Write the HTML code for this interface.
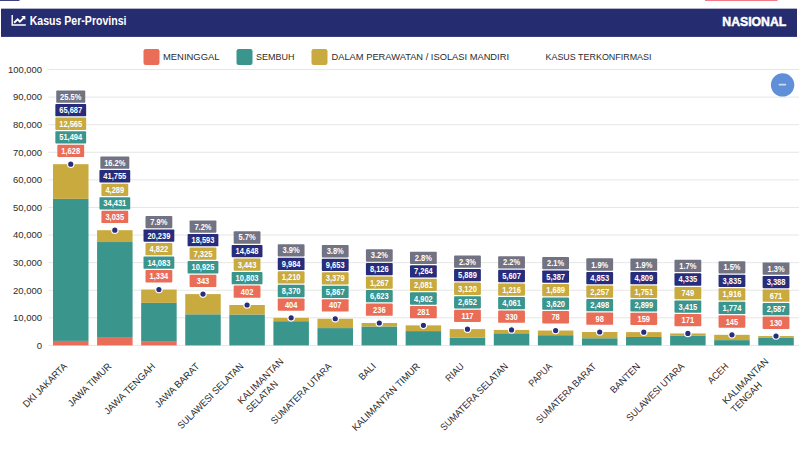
<!DOCTYPE html>
<html><head><meta charset="utf-8"><title>Kasus Per-Provinsi</title>
<style>html,body{margin:0;padding:0;background:#fff;overflow:hidden}body{width:800px;height:450px;font-family:"Liberation Sans",sans-serif}</style>
</head><body>
<svg width="800" height="450" viewBox="0 0 800 450" style="display:block;font-family:'Liberation Sans',sans-serif">
<rect width="800" height="450" fill="#fff"/>
<rect x="0" y="0" width="19.5" height="0.9" fill="#252c6f"/>
<rect x="705" y="0" width="72.5" height="0.9" fill="#f26d78"/>
<rect x="1" y="8.65" width="796" height="28.25" fill="#252c6f"/>
<g fill="none" stroke="#fff" stroke-width="1.4"><path d="M12.2,15 V25 H25.8"/><path d="M14.1,22.7 L17.6,19.3 L19.9,21.6 L23.6,17.8" stroke-width="1.9"/></g>
<path d="M21.2,16 H25.3 V20.1 Z" fill="#fff"/>
<text x="29.7" y="24.8" font-size="12" font-weight="bold" fill="#fff" textLength="96.8" lengthAdjust="spacingAndGlyphs">Kasus Per-Provinsi</text>
<text x="722.3" y="25.6" font-size="13" font-weight="bold" fill="#fff" stroke="#fff" stroke-width="0.5" textLength="64" lengthAdjust="spacingAndGlyphs">NASIONAL</text>
<rect x="143.5" y="49" width="16" height="16" rx="2.2" fill="#ea6d57"/>
<text x="163" y="59.9" font-size="9.5" fill="#2b2b2b" textLength="56.5" lengthAdjust="spacingAndGlyphs">MENINGGAL</text>
<rect x="236.5" y="49" width="16" height="16" rx="2.2" fill="#3a958d"/>
<text x="256" y="59.9" font-size="9.5" fill="#2b2b2b" textLength="38.5" lengthAdjust="spacingAndGlyphs">SEMBUH</text>
<rect x="311.5" y="49" width="16" height="16" rx="2.2" fill="#c8aa3f"/>
<text x="331.5" y="59.9" font-size="9.5" fill="#2b2b2b" textLength="177.5" lengthAdjust="spacingAndGlyphs">DALAM PERAWATAN / ISOLASI MANDIRI</text>
<text x="545.5" y="59.9" font-size="9.5" fill="#2b2b2b" textLength="106" lengthAdjust="spacingAndGlyphs">KASUS TERKONFIRMASI</text>
<rect x="48.4" y="344.90" width="750.6" height="1" fill="#e6e6e6"/>
<text x="36.70" y="348.80" font-size="9.3" fill="#2b2b2b" textLength="5.3" lengthAdjust="spacingAndGlyphs">0</text>
<rect x="48.4" y="317.31" width="750.6" height="1" fill="#e6e6e6"/>
<text x="13.00" y="321.21" font-size="9.3" fill="#2b2b2b" textLength="29" lengthAdjust="spacingAndGlyphs">10,000</text>
<rect x="48.4" y="289.72" width="750.6" height="1" fill="#e6e6e6"/>
<text x="13.00" y="293.62" font-size="9.3" fill="#2b2b2b" textLength="29" lengthAdjust="spacingAndGlyphs">20,000</text>
<rect x="48.4" y="262.13" width="750.6" height="1" fill="#e6e6e6"/>
<text x="13.00" y="266.03" font-size="9.3" fill="#2b2b2b" textLength="29" lengthAdjust="spacingAndGlyphs">30,000</text>
<rect x="48.4" y="234.54" width="750.6" height="1" fill="#e6e6e6"/>
<text x="13.00" y="238.44" font-size="9.3" fill="#2b2b2b" textLength="29" lengthAdjust="spacingAndGlyphs">40,000</text>
<rect x="48.4" y="206.95" width="750.6" height="1" fill="#e6e6e6"/>
<text x="13.00" y="210.85" font-size="9.3" fill="#2b2b2b" textLength="29" lengthAdjust="spacingAndGlyphs">50,000</text>
<rect x="48.4" y="179.36" width="750.6" height="1" fill="#e6e6e6"/>
<text x="13.00" y="183.26" font-size="9.3" fill="#2b2b2b" textLength="29" lengthAdjust="spacingAndGlyphs">60,000</text>
<rect x="48.4" y="151.77" width="750.6" height="1" fill="#e6e6e6"/>
<text x="13.00" y="155.67" font-size="9.3" fill="#2b2b2b" textLength="29" lengthAdjust="spacingAndGlyphs">70,000</text>
<rect x="48.4" y="124.18" width="750.6" height="1" fill="#e6e6e6"/>
<text x="13.00" y="128.08" font-size="9.3" fill="#2b2b2b" textLength="29" lengthAdjust="spacingAndGlyphs">80,000</text>
<rect x="48.4" y="96.59" width="750.6" height="1" fill="#e6e6e6"/>
<text x="13.00" y="100.49" font-size="9.3" fill="#2b2b2b" textLength="29" lengthAdjust="spacingAndGlyphs">90,000</text>
<rect x="48.4" y="69.00" width="750.6" height="1" fill="#e6e6e6"/>
<text x="8.00" y="72.90" font-size="9.3" fill="#2b2b2b" textLength="34" lengthAdjust="spacingAndGlyphs">100,000</text>
<rect x="53.00" y="340.91" width="35.5" height="4.49" fill="#ea6d57"/>
<rect x="53.00" y="198.84" width="35.5" height="142.07" fill="#3a958d"/>
<rect x="53.00" y="164.17" width="35.5" height="34.67" fill="#c8aa3f"/>
<rect x="57.35" y="144.72" width="26.8" height="12.3" rx="0.9" fill="#ea6d57"/>
<text x="61.37" y="153.87" font-size="8.4" font-weight="bold" fill="#fff" textLength="18.77" lengthAdjust="spacingAndGlyphs">1,628</text>
<rect x="55.35" y="131.17" width="30.8" height="12.3" rx="0.9" fill="#3a958d"/>
<text x="59.28" y="140.32" font-size="8.4" font-weight="bold" fill="#fff" textLength="22.94" lengthAdjust="spacingAndGlyphs">51,494</text>
<rect x="55.35" y="117.62" width="30.8" height="12.3" rx="0.9" fill="#c8aa3f"/>
<text x="59.28" y="126.77" font-size="8.4" font-weight="bold" fill="#fff" textLength="22.94" lengthAdjust="spacingAndGlyphs">12,565</text>
<rect x="55.35" y="104.07" width="30.8" height="12.3" rx="0.9" fill="#272d7b"/>
<text x="59.28" y="113.22" font-size="8.4" font-weight="bold" fill="#fff" textLength="22.94" lengthAdjust="spacingAndGlyphs">65,687</text>
<rect x="56.25" y="90.52" width="29" height="12.3" rx="0.9" fill="#717382"/>
<text x="60.12" y="99.67" font-size="8.4" font-weight="bold" fill="#fff" textLength="21.27" lengthAdjust="spacingAndGlyphs">25.5%</text>
<circle cx="70.75" cy="164.17" r="3.2" fill="#272d7b" stroke="#fff" stroke-width="1.2"/>
<text transform="translate(26.84,408.01) rotate(-45)" font-size="9.7" fill="#2b2b2b" textLength="58" lengthAdjust="spacingAndGlyphs">DKI JAKARTA</text>
<rect x="97.08" y="337.03" width="35.5" height="8.37" fill="#ea6d57"/>
<rect x="97.08" y="242.03" width="35.5" height="95.00" fill="#3a958d"/>
<rect x="97.08" y="230.20" width="35.5" height="11.83" fill="#c8aa3f"/>
<rect x="101.43" y="210.75" width="26.8" height="12.3" rx="0.9" fill="#ea6d57"/>
<text x="105.45" y="219.90" font-size="8.4" font-weight="bold" fill="#fff" textLength="18.77" lengthAdjust="spacingAndGlyphs">3,035</text>
<rect x="99.43" y="197.20" width="30.8" height="12.3" rx="0.9" fill="#3a958d"/>
<text x="103.36" y="206.35" font-size="8.4" font-weight="bold" fill="#fff" textLength="22.94" lengthAdjust="spacingAndGlyphs">34,431</text>
<rect x="101.43" y="183.65" width="26.8" height="12.3" rx="0.9" fill="#c8aa3f"/>
<text x="105.45" y="192.80" font-size="8.4" font-weight="bold" fill="#fff" textLength="18.77" lengthAdjust="spacingAndGlyphs">4,289</text>
<rect x="99.43" y="170.10" width="30.8" height="12.3" rx="0.9" fill="#272d7b"/>
<text x="103.36" y="179.25" font-size="8.4" font-weight="bold" fill="#fff" textLength="22.94" lengthAdjust="spacingAndGlyphs">41,755</text>
<rect x="100.33" y="156.55" width="29" height="12.3" rx="0.9" fill="#717382"/>
<text x="104.20" y="165.70" font-size="8.4" font-weight="bold" fill="#fff" textLength="21.27" lengthAdjust="spacingAndGlyphs">16.2%</text>
<circle cx="114.83" cy="230.20" r="3.2" fill="#272d7b" stroke="#fff" stroke-width="1.2"/>
<text transform="translate(71.63,407.30) rotate(-45)" font-size="9.7" fill="#2b2b2b" textLength="57" lengthAdjust="spacingAndGlyphs">JAWA TIMUR</text>
<rect x="141.16" y="341.72" width="35.5" height="3.68" fill="#ea6d57"/>
<rect x="141.16" y="302.86" width="35.5" height="38.85" fill="#3a958d"/>
<rect x="141.16" y="289.56" width="35.5" height="13.30" fill="#c8aa3f"/>
<rect x="145.51" y="270.11" width="26.8" height="12.3" rx="0.9" fill="#ea6d57"/>
<text x="149.53" y="279.26" font-size="8.4" font-weight="bold" fill="#fff" textLength="18.77" lengthAdjust="spacingAndGlyphs">1,334</text>
<rect x="143.51" y="256.56" width="30.8" height="12.3" rx="0.9" fill="#3a958d"/>
<text x="147.44" y="265.71" font-size="8.4" font-weight="bold" fill="#fff" textLength="22.94" lengthAdjust="spacingAndGlyphs">14,083</text>
<rect x="145.51" y="243.01" width="26.8" height="12.3" rx="0.9" fill="#c8aa3f"/>
<text x="149.53" y="252.16" font-size="8.4" font-weight="bold" fill="#fff" textLength="18.77" lengthAdjust="spacingAndGlyphs">4,822</text>
<rect x="143.51" y="229.46" width="30.8" height="12.3" rx="0.9" fill="#272d7b"/>
<text x="147.44" y="238.61" font-size="8.4" font-weight="bold" fill="#fff" textLength="22.94" lengthAdjust="spacingAndGlyphs">20,239</text>
<rect x="145.51" y="215.91" width="26.8" height="12.3" rx="0.9" fill="#717382"/>
<text x="150.36" y="225.06" font-size="8.4" font-weight="bold" fill="#fff" textLength="17.09" lengthAdjust="spacingAndGlyphs">7.9%</text>
<circle cx="158.91" cy="289.56" r="3.2" fill="#272d7b" stroke="#fff" stroke-width="1.2"/>
<text transform="translate(107.93,415.08) rotate(-45)" font-size="9.7" fill="#2b2b2b" textLength="68" lengthAdjust="spacingAndGlyphs">JAWA TENGAH</text>
<rect x="185.24" y="314.31" width="35.5" height="31.09" fill="#3a958d"/>
<rect x="185.24" y="294.10" width="35.5" height="20.21" fill="#c8aa3f"/>
<rect x="189.59" y="274.65" width="26.8" height="12.3" rx="0.9" fill="#ea6d57"/>
<text x="196.73" y="283.80" font-size="8.4" font-weight="bold" fill="#fff" textLength="12.51" lengthAdjust="spacingAndGlyphs">343</text>
<rect x="187.59" y="261.10" width="30.8" height="12.3" rx="0.9" fill="#3a958d"/>
<text x="191.52" y="270.25" font-size="8.4" font-weight="bold" fill="#fff" textLength="22.94" lengthAdjust="spacingAndGlyphs">10,925</text>
<rect x="189.59" y="247.55" width="26.8" height="12.3" rx="0.9" fill="#c8aa3f"/>
<text x="193.61" y="256.70" font-size="8.4" font-weight="bold" fill="#fff" textLength="18.77" lengthAdjust="spacingAndGlyphs">7,325</text>
<rect x="187.59" y="234.00" width="30.8" height="12.3" rx="0.9" fill="#272d7b"/>
<text x="191.52" y="243.15" font-size="8.4" font-weight="bold" fill="#fff" textLength="22.94" lengthAdjust="spacingAndGlyphs">18,593</text>
<rect x="189.59" y="220.45" width="26.8" height="12.3" rx="0.9" fill="#717382"/>
<text x="194.44" y="229.60" font-size="8.4" font-weight="bold" fill="#fff" textLength="17.09" lengthAdjust="spacingAndGlyphs">7.2%</text>
<circle cx="202.99" cy="294.10" r="3.2" fill="#272d7b" stroke="#fff" stroke-width="1.2"/>
<text transform="translate(158.72,408.37) rotate(-45)" font-size="9.7" fill="#2b2b2b" textLength="58.5" lengthAdjust="spacingAndGlyphs">JAWA BARAT</text>
<rect x="229.32" y="314.49" width="35.5" height="30.91" fill="#3a958d"/>
<rect x="229.32" y="304.99" width="35.5" height="9.50" fill="#c8aa3f"/>
<rect x="233.67" y="285.54" width="26.8" height="12.3" rx="0.9" fill="#ea6d57"/>
<text x="240.81" y="294.69" font-size="8.4" font-weight="bold" fill="#fff" textLength="12.51" lengthAdjust="spacingAndGlyphs">402</text>
<rect x="231.67" y="271.99" width="30.8" height="12.3" rx="0.9" fill="#3a958d"/>
<text x="235.60" y="281.14" font-size="8.4" font-weight="bold" fill="#fff" textLength="22.94" lengthAdjust="spacingAndGlyphs">10,803</text>
<rect x="233.67" y="258.44" width="26.8" height="12.3" rx="0.9" fill="#c8aa3f"/>
<text x="237.69" y="267.59" font-size="8.4" font-weight="bold" fill="#fff" textLength="18.77" lengthAdjust="spacingAndGlyphs">3,443</text>
<rect x="231.67" y="244.89" width="30.8" height="12.3" rx="0.9" fill="#272d7b"/>
<text x="235.60" y="254.04" font-size="8.4" font-weight="bold" fill="#fff" textLength="22.94" lengthAdjust="spacingAndGlyphs">14,648</text>
<rect x="233.67" y="231.34" width="26.8" height="12.3" rx="0.9" fill="#717382"/>
<text x="238.52" y="240.49" font-size="8.4" font-weight="bold" fill="#fff" textLength="17.09" lengthAdjust="spacingAndGlyphs">5.7%</text>
<circle cx="247.07" cy="304.99" r="3.2" fill="#272d7b" stroke="#fff" stroke-width="1.2"/>
<text transform="translate(181.59,429.58) rotate(-45)" font-size="9.7" fill="#2b2b2b" textLength="88.5" lengthAdjust="spacingAndGlyphs">SULAWESI SELATAN</text>
<rect x="273.40" y="321.19" width="35.5" height="24.21" fill="#3a958d"/>
<rect x="273.40" y="317.85" width="35.5" height="3.34" fill="#c8aa3f"/>
<rect x="277.75" y="298.40" width="26.8" height="12.3" rx="0.9" fill="#ea6d57"/>
<text x="284.89" y="307.55" font-size="8.4" font-weight="bold" fill="#fff" textLength="12.51" lengthAdjust="spacingAndGlyphs">404</text>
<rect x="277.75" y="284.85" width="26.8" height="12.3" rx="0.9" fill="#3a958d"/>
<text x="281.77" y="294.00" font-size="8.4" font-weight="bold" fill="#fff" textLength="18.77" lengthAdjust="spacingAndGlyphs">8,370</text>
<rect x="277.75" y="271.30" width="26.8" height="12.3" rx="0.9" fill="#c8aa3f"/>
<text x="281.77" y="280.45" font-size="8.4" font-weight="bold" fill="#fff" textLength="18.77" lengthAdjust="spacingAndGlyphs">1,210</text>
<rect x="277.75" y="257.75" width="26.8" height="12.3" rx="0.9" fill="#272d7b"/>
<text x="281.77" y="266.90" font-size="8.4" font-weight="bold" fill="#fff" textLength="18.77" lengthAdjust="spacingAndGlyphs">9,984</text>
<rect x="277.75" y="244.20" width="26.8" height="12.3" rx="0.9" fill="#717382"/>
<text x="282.60" y="253.35" font-size="8.4" font-weight="bold" fill="#fff" textLength="17.09" lengthAdjust="spacingAndGlyphs">3.9%</text>
<circle cx="291.15" cy="317.85" r="3.2" fill="#272d7b" stroke="#fff" stroke-width="1.2"/>
<text transform="translate(241.47,404.78) rotate(-45)" font-size="9.7" fill="#2b2b2b" textLength="60.5" lengthAdjust="spacingAndGlyphs">KALIMANTAN</text>
<text transform="translate(249.97,413.28) rotate(-45)" font-size="9.7" fill="#2b2b2b" textLength="40.5" lengthAdjust="spacingAndGlyphs">SELATAN</text>
<rect x="317.48" y="328.09" width="35.5" height="17.31" fill="#3a958d"/>
<rect x="317.48" y="318.77" width="35.5" height="9.32" fill="#c8aa3f"/>
<rect x="321.83" y="299.32" width="26.8" height="12.3" rx="0.9" fill="#ea6d57"/>
<text x="328.97" y="308.47" font-size="8.4" font-weight="bold" fill="#fff" textLength="12.51" lengthAdjust="spacingAndGlyphs">407</text>
<rect x="321.83" y="285.77" width="26.8" height="12.3" rx="0.9" fill="#3a958d"/>
<text x="325.85" y="294.92" font-size="8.4" font-weight="bold" fill="#fff" textLength="18.77" lengthAdjust="spacingAndGlyphs">5,867</text>
<rect x="321.83" y="272.22" width="26.8" height="12.3" rx="0.9" fill="#c8aa3f"/>
<text x="325.85" y="281.37" font-size="8.4" font-weight="bold" fill="#fff" textLength="18.77" lengthAdjust="spacingAndGlyphs">3,379</text>
<rect x="321.83" y="258.67" width="26.8" height="12.3" rx="0.9" fill="#272d7b"/>
<text x="325.85" y="267.82" font-size="8.4" font-weight="bold" fill="#fff" textLength="18.77" lengthAdjust="spacingAndGlyphs">9,653</text>
<rect x="321.83" y="245.12" width="26.8" height="12.3" rx="0.9" fill="#717382"/>
<text x="326.68" y="254.27" font-size="8.4" font-weight="bold" fill="#fff" textLength="17.09" lengthAdjust="spacingAndGlyphs">3.8%</text>
<circle cx="335.23" cy="318.77" r="3.2" fill="#272d7b" stroke="#fff" stroke-width="1.2"/>
<text transform="translate(274.70,424.63) rotate(-45)" font-size="9.7" fill="#2b2b2b" textLength="81.5" lengthAdjust="spacingAndGlyphs">SUMATERA UTARA</text>
<rect x="361.56" y="326.48" width="35.5" height="18.92" fill="#3a958d"/>
<rect x="361.56" y="322.98" width="35.5" height="3.50" fill="#c8aa3f"/>
<rect x="365.91" y="303.53" width="26.8" height="12.3" rx="0.9" fill="#ea6d57"/>
<text x="373.05" y="312.68" font-size="8.4" font-weight="bold" fill="#fff" textLength="12.51" lengthAdjust="spacingAndGlyphs">236</text>
<rect x="365.91" y="289.98" width="26.8" height="12.3" rx="0.9" fill="#3a958d"/>
<text x="369.93" y="299.13" font-size="8.4" font-weight="bold" fill="#fff" textLength="18.77" lengthAdjust="spacingAndGlyphs">6,623</text>
<rect x="365.91" y="276.43" width="26.8" height="12.3" rx="0.9" fill="#c8aa3f"/>
<text x="369.93" y="285.58" font-size="8.4" font-weight="bold" fill="#fff" textLength="18.77" lengthAdjust="spacingAndGlyphs">1,267</text>
<rect x="365.91" y="262.88" width="26.8" height="12.3" rx="0.9" fill="#272d7b"/>
<text x="369.93" y="272.03" font-size="8.4" font-weight="bold" fill="#fff" textLength="18.77" lengthAdjust="spacingAndGlyphs">8,126</text>
<rect x="365.91" y="249.33" width="26.8" height="12.3" rx="0.9" fill="#717382"/>
<text x="370.76" y="258.48" font-size="8.4" font-weight="bold" fill="#fff" textLength="17.09" lengthAdjust="spacingAndGlyphs">3.2%</text>
<circle cx="379.31" cy="322.98" r="3.2" fill="#272d7b" stroke="#fff" stroke-width="1.2"/>
<text transform="translate(362.55,380.86) rotate(-45)" font-size="9.7" fill="#2b2b2b" textLength="19.6" lengthAdjust="spacingAndGlyphs">BALI</text>
<rect x="405.64" y="331.10" width="35.5" height="14.30" fill="#3a958d"/>
<rect x="405.64" y="325.36" width="35.5" height="5.74" fill="#c8aa3f"/>
<rect x="409.99" y="305.91" width="26.8" height="12.3" rx="0.9" fill="#ea6d57"/>
<text x="417.13" y="315.06" font-size="8.4" font-weight="bold" fill="#fff" textLength="12.51" lengthAdjust="spacingAndGlyphs">281</text>
<rect x="409.99" y="292.36" width="26.8" height="12.3" rx="0.9" fill="#3a958d"/>
<text x="414.01" y="301.51" font-size="8.4" font-weight="bold" fill="#fff" textLength="18.77" lengthAdjust="spacingAndGlyphs">4,902</text>
<rect x="409.99" y="278.81" width="26.8" height="12.3" rx="0.9" fill="#c8aa3f"/>
<text x="414.01" y="287.96" font-size="8.4" font-weight="bold" fill="#fff" textLength="18.77" lengthAdjust="spacingAndGlyphs">2,081</text>
<rect x="409.99" y="265.26" width="26.8" height="12.3" rx="0.9" fill="#272d7b"/>
<text x="414.01" y="274.41" font-size="8.4" font-weight="bold" fill="#fff" textLength="18.77" lengthAdjust="spacingAndGlyphs">7,264</text>
<rect x="409.99" y="251.71" width="26.8" height="12.3" rx="0.9" fill="#717382"/>
<text x="414.84" y="260.86" font-size="8.4" font-weight="bold" fill="#fff" textLength="17.09" lengthAdjust="spacingAndGlyphs">2.8%</text>
<circle cx="423.39" cy="325.36" r="3.2" fill="#272d7b" stroke="#fff" stroke-width="1.2"/>
<text transform="translate(355.93,431.56) rotate(-45)" font-size="9.7" fill="#2b2b2b" textLength="91.3" lengthAdjust="spacingAndGlyphs">KALIMANTAN TIMUR</text>
<rect x="449.72" y="337.76" width="35.5" height="7.64" fill="#3a958d"/>
<rect x="449.72" y="329.15" width="35.5" height="8.61" fill="#c8aa3f"/>
<rect x="454.07" y="309.70" width="26.8" height="12.3" rx="0.9" fill="#ea6d57"/>
<text x="461.42" y="318.85" font-size="8.4" font-weight="bold" fill="#fff" textLength="12.10" lengthAdjust="spacingAndGlyphs">117</text>
<rect x="454.07" y="296.15" width="26.8" height="12.3" rx="0.9" fill="#3a958d"/>
<text x="458.09" y="305.30" font-size="8.4" font-weight="bold" fill="#fff" textLength="18.77" lengthAdjust="spacingAndGlyphs">2,652</text>
<rect x="454.07" y="282.60" width="26.8" height="12.3" rx="0.9" fill="#c8aa3f"/>
<text x="458.09" y="291.75" font-size="8.4" font-weight="bold" fill="#fff" textLength="18.77" lengthAdjust="spacingAndGlyphs">3,120</text>
<rect x="454.07" y="269.05" width="26.8" height="12.3" rx="0.9" fill="#272d7b"/>
<text x="458.09" y="278.20" font-size="8.4" font-weight="bold" fill="#fff" textLength="18.77" lengthAdjust="spacingAndGlyphs">5,889</text>
<rect x="454.07" y="255.50" width="26.8" height="12.3" rx="0.9" fill="#717382"/>
<text x="458.92" y="264.65" font-size="8.4" font-weight="bold" fill="#fff" textLength="17.09" lengthAdjust="spacingAndGlyphs">2.3%</text>
<circle cx="467.47" cy="329.15" r="3.2" fill="#272d7b" stroke="#fff" stroke-width="1.2"/>
<text transform="translate(449.37,382.20) rotate(-45)" font-size="9.7" fill="#2b2b2b" textLength="21.5" lengthAdjust="spacingAndGlyphs">RIAU</text>
<rect x="493.80" y="333.29" width="35.5" height="12.11" fill="#3a958d"/>
<rect x="493.80" y="329.93" width="35.5" height="3.35" fill="#c8aa3f"/>
<rect x="498.15" y="310.48" width="26.8" height="12.3" rx="0.9" fill="#ea6d57"/>
<text x="505.29" y="319.63" font-size="8.4" font-weight="bold" fill="#fff" textLength="12.51" lengthAdjust="spacingAndGlyphs">330</text>
<rect x="498.15" y="296.93" width="26.8" height="12.3" rx="0.9" fill="#3a958d"/>
<text x="502.17" y="306.08" font-size="8.4" font-weight="bold" fill="#fff" textLength="18.77" lengthAdjust="spacingAndGlyphs">4,061</text>
<rect x="498.15" y="283.38" width="26.8" height="12.3" rx="0.9" fill="#c8aa3f"/>
<text x="502.17" y="292.53" font-size="8.4" font-weight="bold" fill="#fff" textLength="18.77" lengthAdjust="spacingAndGlyphs">1,216</text>
<rect x="498.15" y="269.83" width="26.8" height="12.3" rx="0.9" fill="#272d7b"/>
<text x="502.17" y="278.98" font-size="8.4" font-weight="bold" fill="#fff" textLength="18.77" lengthAdjust="spacingAndGlyphs">5,607</text>
<rect x="498.15" y="256.28" width="26.8" height="12.3" rx="0.9" fill="#717382"/>
<text x="503.00" y="265.43" font-size="8.4" font-weight="bold" fill="#fff" textLength="17.09" lengthAdjust="spacingAndGlyphs">2.2%</text>
<circle cx="511.55" cy="329.93" r="3.2" fill="#272d7b" stroke="#fff" stroke-width="1.2"/>
<text transform="translate(444.30,431.35) rotate(-45)" font-size="9.7" fill="#2b2b2b" textLength="91" lengthAdjust="spacingAndGlyphs">SUMATERA SELATAN</text>
<rect x="537.88" y="335.20" width="35.5" height="10.20" fill="#3a958d"/>
<rect x="537.88" y="330.54" width="35.5" height="4.66" fill="#c8aa3f"/>
<rect x="542.23" y="311.09" width="26.8" height="12.3" rx="0.9" fill="#ea6d57"/>
<text x="551.46" y="320.24" font-size="8.4" font-weight="bold" fill="#fff" textLength="8.34" lengthAdjust="spacingAndGlyphs">78</text>
<rect x="542.23" y="297.54" width="26.8" height="12.3" rx="0.9" fill="#3a958d"/>
<text x="546.25" y="306.69" font-size="8.4" font-weight="bold" fill="#fff" textLength="18.77" lengthAdjust="spacingAndGlyphs">3,620</text>
<rect x="542.23" y="283.99" width="26.8" height="12.3" rx="0.9" fill="#c8aa3f"/>
<text x="546.25" y="293.14" font-size="8.4" font-weight="bold" fill="#fff" textLength="18.77" lengthAdjust="spacingAndGlyphs">1,689</text>
<rect x="542.23" y="270.44" width="26.8" height="12.3" rx="0.9" fill="#272d7b"/>
<text x="546.25" y="279.59" font-size="8.4" font-weight="bold" fill="#fff" textLength="18.77" lengthAdjust="spacingAndGlyphs">5,387</text>
<rect x="542.23" y="256.89" width="26.8" height="12.3" rx="0.9" fill="#717382"/>
<text x="547.08" y="266.04" font-size="8.4" font-weight="bold" fill="#fff" textLength="17.09" lengthAdjust="spacingAndGlyphs">2.1%</text>
<circle cx="555.63" cy="330.54" r="3.2" fill="#272d7b" stroke="#fff" stroke-width="1.2"/>
<text transform="translate(532.58,387.15) rotate(-45)" font-size="9.7" fill="#2b2b2b" textLength="28.5" lengthAdjust="spacingAndGlyphs">PAPUA</text>
<rect x="581.96" y="338.24" width="35.5" height="7.16" fill="#3a958d"/>
<rect x="581.96" y="332.01" width="35.5" height="6.23" fill="#c8aa3f"/>
<rect x="586.31" y="312.56" width="26.8" height="12.3" rx="0.9" fill="#ea6d57"/>
<text x="595.54" y="321.71" font-size="8.4" font-weight="bold" fill="#fff" textLength="8.34" lengthAdjust="spacingAndGlyphs">98</text>
<rect x="586.31" y="299.01" width="26.8" height="12.3" rx="0.9" fill="#3a958d"/>
<text x="590.33" y="308.16" font-size="8.4" font-weight="bold" fill="#fff" textLength="18.77" lengthAdjust="spacingAndGlyphs">2,498</text>
<rect x="586.31" y="285.46" width="26.8" height="12.3" rx="0.9" fill="#c8aa3f"/>
<text x="590.33" y="294.61" font-size="8.4" font-weight="bold" fill="#fff" textLength="18.77" lengthAdjust="spacingAndGlyphs">2,257</text>
<rect x="586.31" y="271.91" width="26.8" height="12.3" rx="0.9" fill="#272d7b"/>
<text x="590.33" y="281.06" font-size="8.4" font-weight="bold" fill="#fff" textLength="18.77" lengthAdjust="spacingAndGlyphs">4,853</text>
<rect x="586.31" y="258.36" width="26.8" height="12.3" rx="0.9" fill="#717382"/>
<text x="591.16" y="267.51" font-size="8.4" font-weight="bold" fill="#fff" textLength="17.09" lengthAdjust="spacingAndGlyphs">1.9%</text>
<circle cx="599.71" cy="332.01" r="3.2" fill="#272d7b" stroke="#fff" stroke-width="1.2"/>
<text transform="translate(539.89,423.92) rotate(-45)" font-size="9.7" fill="#2b2b2b" textLength="80.5" lengthAdjust="spacingAndGlyphs">SUMATERA BARAT</text>
<rect x="626.04" y="336.96" width="35.5" height="8.44" fill="#3a958d"/>
<rect x="626.04" y="332.13" width="35.5" height="4.83" fill="#c8aa3f"/>
<rect x="630.39" y="312.68" width="26.8" height="12.3" rx="0.9" fill="#ea6d57"/>
<text x="637.53" y="321.83" font-size="8.4" font-weight="bold" fill="#fff" textLength="12.51" lengthAdjust="spacingAndGlyphs">159</text>
<rect x="630.39" y="299.13" width="26.8" height="12.3" rx="0.9" fill="#3a958d"/>
<text x="634.41" y="308.28" font-size="8.4" font-weight="bold" fill="#fff" textLength="18.77" lengthAdjust="spacingAndGlyphs">2,899</text>
<rect x="630.39" y="285.58" width="26.8" height="12.3" rx="0.9" fill="#c8aa3f"/>
<text x="634.41" y="294.73" font-size="8.4" font-weight="bold" fill="#fff" textLength="18.77" lengthAdjust="spacingAndGlyphs">1,751</text>
<rect x="630.39" y="272.03" width="26.8" height="12.3" rx="0.9" fill="#272d7b"/>
<text x="634.41" y="281.18" font-size="8.4" font-weight="bold" fill="#fff" textLength="18.77" lengthAdjust="spacingAndGlyphs">4,809</text>
<rect x="630.39" y="258.48" width="26.8" height="12.3" rx="0.9" fill="#717382"/>
<text x="635.24" y="267.63" font-size="8.4" font-weight="bold" fill="#fff" textLength="17.09" lengthAdjust="spacingAndGlyphs">1.9%</text>
<circle cx="643.79" cy="332.13" r="3.2" fill="#272d7b" stroke="#fff" stroke-width="1.2"/>
<text transform="translate(614.02,393.87) rotate(-45)" font-size="9.7" fill="#2b2b2b" textLength="38" lengthAdjust="spacingAndGlyphs">BANTEN</text>
<rect x="670.12" y="335.51" width="35.5" height="9.89" fill="#3a958d"/>
<rect x="670.12" y="333.44" width="35.5" height="2.07" fill="#c8aa3f"/>
<rect x="674.47" y="313.99" width="26.8" height="12.3" rx="0.9" fill="#ea6d57"/>
<text x="681.61" y="323.14" font-size="8.4" font-weight="bold" fill="#fff" textLength="12.51" lengthAdjust="spacingAndGlyphs">171</text>
<rect x="674.47" y="300.44" width="26.8" height="12.3" rx="0.9" fill="#3a958d"/>
<text x="678.49" y="309.59" font-size="8.4" font-weight="bold" fill="#fff" textLength="18.77" lengthAdjust="spacingAndGlyphs">3,415</text>
<rect x="674.47" y="286.89" width="26.8" height="12.3" rx="0.9" fill="#c8aa3f"/>
<text x="681.61" y="296.04" font-size="8.4" font-weight="bold" fill="#fff" textLength="12.51" lengthAdjust="spacingAndGlyphs">749</text>
<rect x="674.47" y="273.34" width="26.8" height="12.3" rx="0.9" fill="#272d7b"/>
<text x="678.49" y="282.49" font-size="8.4" font-weight="bold" fill="#fff" textLength="18.77" lengthAdjust="spacingAndGlyphs">4,335</text>
<rect x="674.47" y="259.79" width="26.8" height="12.3" rx="0.9" fill="#717382"/>
<text x="679.32" y="268.94" font-size="8.4" font-weight="bold" fill="#fff" textLength="17.09" lengthAdjust="spacingAndGlyphs">1.7%</text>
<circle cx="687.87" cy="333.44" r="3.2" fill="#272d7b" stroke="#fff" stroke-width="1.2"/>
<text transform="translate(630.31,421.66) rotate(-45)" font-size="9.7" fill="#2b2b2b" textLength="77.3" lengthAdjust="spacingAndGlyphs">SULAWESI UTARA</text>
<rect x="714.20" y="340.11" width="35.5" height="5.29" fill="#3a958d"/>
<rect x="714.20" y="334.82" width="35.5" height="5.29" fill="#c8aa3f"/>
<rect x="718.55" y="315.37" width="26.8" height="12.3" rx="0.9" fill="#ea6d57"/>
<text x="725.69" y="324.52" font-size="8.4" font-weight="bold" fill="#fff" textLength="12.51" lengthAdjust="spacingAndGlyphs">145</text>
<rect x="718.55" y="301.82" width="26.8" height="12.3" rx="0.9" fill="#3a958d"/>
<text x="722.57" y="310.97" font-size="8.4" font-weight="bold" fill="#fff" textLength="18.77" lengthAdjust="spacingAndGlyphs">1,774</text>
<rect x="718.55" y="288.27" width="26.8" height="12.3" rx="0.9" fill="#c8aa3f"/>
<text x="722.57" y="297.42" font-size="8.4" font-weight="bold" fill="#fff" textLength="18.77" lengthAdjust="spacingAndGlyphs">1,916</text>
<rect x="718.55" y="274.72" width="26.8" height="12.3" rx="0.9" fill="#272d7b"/>
<text x="722.57" y="283.87" font-size="8.4" font-weight="bold" fill="#fff" textLength="18.77" lengthAdjust="spacingAndGlyphs">3,835</text>
<rect x="718.55" y="261.17" width="26.8" height="12.3" rx="0.9" fill="#717382"/>
<text x="723.40" y="270.32" font-size="8.4" font-weight="bold" fill="#fff" textLength="17.09" lengthAdjust="spacingAndGlyphs">1.5%</text>
<circle cx="731.95" cy="334.82" r="3.2" fill="#272d7b" stroke="#fff" stroke-width="1.2"/>
<text transform="translate(711.58,384.47) rotate(-45)" font-size="9.7" fill="#2b2b2b" textLength="24.7" lengthAdjust="spacingAndGlyphs">ACEH</text>
<rect x="758.28" y="337.90" width="35.5" height="7.50" fill="#3a958d"/>
<rect x="758.28" y="336.05" width="35.5" height="1.85" fill="#c8aa3f"/>
<rect x="762.63" y="316.60" width="26.8" height="12.3" rx="0.9" fill="#ea6d57"/>
<text x="769.77" y="325.75" font-size="8.4" font-weight="bold" fill="#fff" textLength="12.51" lengthAdjust="spacingAndGlyphs">130</text>
<rect x="762.63" y="303.05" width="26.8" height="12.3" rx="0.9" fill="#3a958d"/>
<text x="766.65" y="312.20" font-size="8.4" font-weight="bold" fill="#fff" textLength="18.77" lengthAdjust="spacingAndGlyphs">2,587</text>
<rect x="762.63" y="289.50" width="26.8" height="12.3" rx="0.9" fill="#c8aa3f"/>
<text x="769.77" y="298.65" font-size="8.4" font-weight="bold" fill="#fff" textLength="12.51" lengthAdjust="spacingAndGlyphs">671</text>
<rect x="762.63" y="275.95" width="26.8" height="12.3" rx="0.9" fill="#272d7b"/>
<text x="766.65" y="285.10" font-size="8.4" font-weight="bold" fill="#fff" textLength="18.77" lengthAdjust="spacingAndGlyphs">3,388</text>
<rect x="762.63" y="262.40" width="26.8" height="12.3" rx="0.9" fill="#717382"/>
<text x="767.48" y="271.55" font-size="8.4" font-weight="bold" fill="#fff" textLength="17.09" lengthAdjust="spacingAndGlyphs">1.3%</text>
<circle cx="776.03" cy="336.05" r="3.2" fill="#272d7b" stroke="#fff" stroke-width="1.2"/>
<text transform="translate(726.35,404.78) rotate(-45)" font-size="9.7" fill="#2b2b2b" textLength="60.5" lengthAdjust="spacingAndGlyphs">KALIMANTAN</text>
<text transform="translate(734.85,413.28) rotate(-45)" font-size="9.7" fill="#2b2b2b" textLength="39" lengthAdjust="spacingAndGlyphs">TENGAH</text>
<circle cx="782.6" cy="84.9" r="11.7" fill="#5f8fd9"/>
<rect x="778.6" y="83.8" width="7.6" height="1.8" rx="0.9" fill="#cfdcf3"/>
</svg>
</body></html>
